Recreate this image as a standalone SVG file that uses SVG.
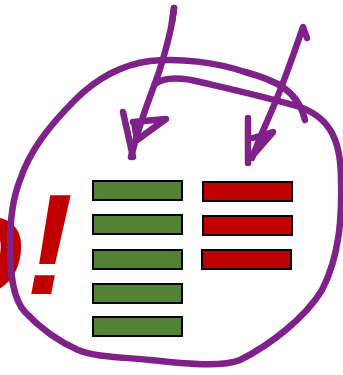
<svg xmlns="http://www.w3.org/2000/svg" width="343" height="375" viewBox="0 0 343 375">
<style>
.g{fill:#548235;stroke:#000;stroke-width:2}
.r{fill:#C00000;stroke:#000;stroke-width:2}
.p{fill:none;stroke:#7E2189;stroke-width:6.5;stroke-linecap:round;stroke-linejoin:round}
.t{font-family:"Liberation Sans",Arial,sans-serif;font-weight:bold;font-style:italic;font-size:142px;fill:#C00000}
</style>
<rect width="343" height="375" fill="#fff"/>
<text class="t" x="73" y="294" text-anchor="end">o!</text>
<path class="p" d="M155,84 C165,76 185,78 200,82 C230,89 270,98 300,107 C330,118 341,140 341,180 C342,215 340,255 322,290 C305,318 270,345 240,360 C220,368 180,363 150,360 C120,357 95,357 78,350 C60,342 40,328 25,312 C12,298 10,270 10,245 C10,215 14,195 20,180 C30,150 50,125 75,100 C95,80 120,65 150,61 C180,58 215,62 245,72 C275,80 298,90 305,120"/>
<g id="nodes">
<g id="g1"><rect class="g" x="93" y="181" width="89" height="19"/></g>
<g id="g2"><rect class="g" x="93" y="215" width="89" height="19"/></g>
<g id="g3"><rect class="g" x="93" y="250" width="89" height="19"/></g>
<g id="g4"><rect class="g" x="93" y="284" width="89" height="19"/></g>
<g id="g5"><rect class="g" x="93" y="317" width="89" height="19"/></g>
<g id="r1"><rect class="r" x="203" y="182" width="89" height="19"/></g>
<g id="r2"><rect class="r" x="203" y="216" width="89" height="19"/></g>
<g id="r3"><rect class="r" x="202" y="250" width="89" height="19"/></g>
</g>
<g id="connectors">
<path class="p" d="M174,8 L172,22" stroke-width="10"/>
<path class="p" d="M174,8 C172,30 166,50 159,72 C151,95 140,120 131,157"/>
<path class="p" d="M123,112 L133,157 M133,122 L166,119 L137,140 L134,122"/>
<path class="p" d="M307,38 L303,27 C295,50 285,80 272,110 C263,130 257,145 252,158"/>
<path class="p" d="M248,118 L248,163 M253,138 L273,132 L253,155"/>
</g>
</svg>
